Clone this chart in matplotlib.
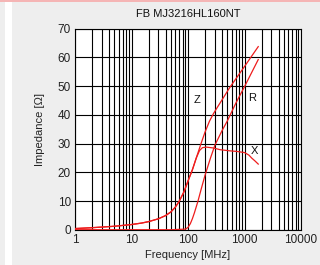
"""FB MJ3216HL160NT impedance vs frequency chart."""
import numpy as np
import matplotlib
matplotlib.use("Agg")
import matplotlib.pyplot as plt
from matplotlib.patches import Rectangle

plt.rcParams["font.family"] = ["Liberation Sans", "DejaVu Sans"]

# --- data (frequency in MHz, impedance in ohm) ---
z_freq = [1, 2, 5, 10, 15, 20, 30, 40, 50, 60, 70, 85, 100, 120, 140, 170, 200, 240,
          280, 330, 400, 540, 1000, 1750]
z_val = [0.5, 0.8, 1.3, 1.9, 2.4, 2.9, 3.9, 5.0, 6.3, 8.0, 10.0, 13.3, 17.0, 21.0, 25.0,
         30.0, 34.0, 37.8, 40.3, 42.6, 45.2, 49.3, 56.8, 63.7]

r_freq = [1, 10, 50, 90, 100, 110, 120, 130, 150, 170, 200, 250, 300, 400, 500, 700,
          1000, 1750]
r_val = [0.1, 0.1, 0.1, 0.3, 0.9, 2.2, 4.0, 6.0, 10.0, 14.0, 19.0, 25.0, 29.5, 34.5,
         38.0, 44.0, 49.8, 59.2]

x_freq = [1, 2, 5, 10, 15, 20, 30, 40, 50, 60, 70, 85, 100, 120, 140, 160, 180, 210,
          280, 370, 550, 725, 1000, 1200, 1340, 1550, 1750]
x_val = [0.5, 0.8, 1.3, 1.9, 2.4, 2.9, 3.9, 5.0, 6.3, 8.0, 10.0, 13.3, 17.0, 21.0, 25.0,
         27.6, 28.6, 28.8, 28.5, 27.9, 27.5, 27.3, 26.9, 26.0, 25.0, 23.9, 22.9]

labels = [("Z", 143, 45.3), ("R", 1340, 45.9), ("X", 1473, 27.6)]
xticks = [1, 10, 100, 1000, 10000]
yticks = list(range(0, 71, 10))

fig = plt.figure(figsize=(3.2, 2.65), dpi=100, facecolor="#eeeeee")
# decorative page bits: white strip on the left, pink rule on top
fig.patches.append(Rectangle((5 / 320, 0), 7 / 320, 1, transform=fig.transFigure,
                             facecolor="white", edgecolor="none", zorder=0))
fig.patches.append(Rectangle((0, 1 - 2 / 265), 1, 2 / 265, transform=fig.transFigure,
                             facecolor="#f5b5b5", edgecolor="none", zorder=0))

ax = fig.add_axes([75 / 320, 35 / 265, 226 / 320, 201.5 / 265])
ax.set_facecolor("white")
ax.set_xscale("log")
ax.set_xlim(1, 10000)
ax.set_ylim(0, 70)

# full log grid: every integer multiple within each decade
minor = [m * 10 ** d for d in range(4) for m in range(1, 10)] + [10000]
for f in minor:
    ax.axvline(f, color="black", lw=0.8, zorder=1)
for y in yticks:
    ax.axhline(y, color="black", lw=0.8, zorder=1)

for fr, vals in [(z_freq, z_val), (r_freq, r_val), (x_freq, x_val)]:
    ax.plot(fr, vals, color="#ee1c1c", lw=0.9, zorder=3)

for name, fx, fy in labels:
    ax.text(fx, fy, name, fontsize=8, ha="center", va="center", color="#111111", zorder=4)

ax.set_xticks(xticks)
ax.set_xticklabels([str(v) for v in xticks])
ax.set_yticks(yticks)
ax.xaxis.set_minor_locator(matplotlib.ticker.NullLocator())
ax.tick_params(length=0, labelsize=8.5, colors="#222222", pad=3)
for s in ax.spines.values():
    s.set_color("black")
    s.set_linewidth(0.8)

ax.set_title("FB MJ3216HL160NT", fontsize=8, color="#111111", pad=8)
ax.set_xlabel("Frequency [MHz]", fontsize=8, color="#222222", labelpad=3)
ax.set_ylabel("Impedance [Ω]", fontsize=8, color="#222222", labelpad=9)

fig.savefig("out.png", dpi=100, facecolor=fig.get_facecolor())
